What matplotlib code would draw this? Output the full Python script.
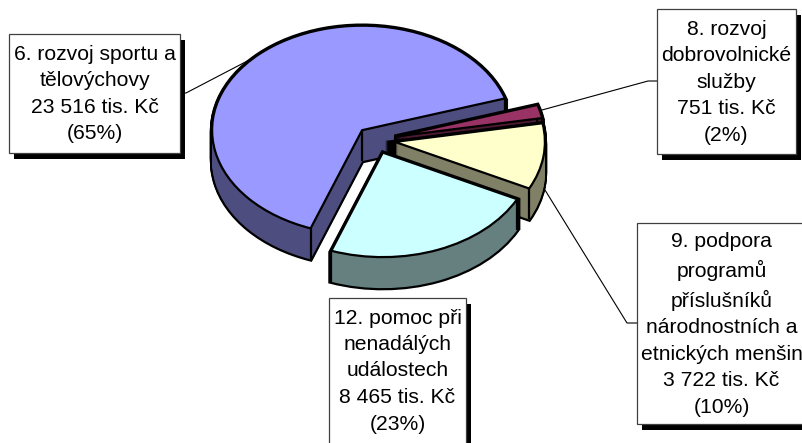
import numpy as np
import matplotlib
matplotlib.use("Agg")
import matplotlib.pyplot as plt
from matplotlib.patches import Rectangle

plt.rcParams['font.family'] = ['Liberation Sans', 'DejaVu Sans']

# data (pie order, counter-clockwise from the start angle)
categories = ["6. rozvoj sportu a\ntělovýchovy",
              "12. pomoc při\nnenadálých\nudálostech",
              "9. podpora\nprogramů\npříslušníků\nnárodnostních a\netnických menšin",
              "8. rozvoj\ndobrovolnické\nslužby"]
values = [23516, 8465, 3722, 751]
value_labels = ["23 516 tis. Kč", "8 465 tis. Kč", "3 722 tis. Kč", "751 tis. Kč"]
percent_labels = ["(65%)", "(23%)", "(10%)", "(2%)"]

top_colors = ["#9999FF", "#CCFFFF", "#FFFFCC", "#993366"]
side_colors = ["#4D4D80", "#668080", "#808066", "#4D1A33"]
draw_order = [0, 3, 2, 1]   # back to front

W, H = 803, 443
CX, CY, A, B = 375.6, 140.0, 150.0, 104.5
DEPTH_PX = 31
START = 17.7
EXPLODE = [0.13] * 4
LW = 1.6

fig = plt.figure(figsize=(W / 100, H / 100), dpi=100, facecolor="white")
ax = fig.add_axes([0, 0, 1, 1])


def layer(depth, **wedgeprops):
    w, _ = ax.pie(values, startangle=START, explode=EXPLODE, center=(0, -depth),
                  radius=1, colors=top_colors, wedgeprops=wedgeprops)
    return w


depth_units = DEPTH_PX / B
steps = np.linspace(depth_units, 0, DEPTH_PX + 1)

# black silhouette, then dark sides over it
for d in steps:
    for o, w in zip(np.argsort(draw_order), layer(d, edgecolor="black", linewidth=LW * 2)):
        w.set_zorder(10 * o + 1)
for d in steps:
    for i, (o, w) in enumerate(zip(np.argsort(draw_order), layer(d, linewidth=0))):
        w.set_facecolor(side_colors[i])
        w.set_zorder(10 * o + 2)

# top faces and the vertical corner edges
tops = layer(0, edgecolor="black", linewidth=LW, joinstyle="miter")
for o, w in zip(np.argsort(draw_order), tops):
    w.set_zorder(10 * o + 4)
    cx, cy = w.center
    xs = [cx, cx + np.cos(np.radians(w.theta1)), cx + np.cos(np.radians(w.theta2))]
    ys = [cy, cy + np.sin(np.radians(w.theta1)), cy + np.sin(np.radians(w.theta2))]
    for x, y in zip(xs, ys):
        ax.plot([x, x], [y, y - depth_units], color="black", lw=LW,
                zorder=10 * o + 3, solid_capstyle="butt")

ax.set_aspect("auto")
ax.set_xlim(-CX / A, (W - CX) / A)
ax.set_ylim((CY - H) / B, CY / B)
ax.axis("off")

# overlay in pixel coordinates for callouts
ov = fig.add_axes([0, 0, 1, 1], zorder=5)
ov.set_xlim(0, W)
ov.set_ylim(H, 0)
ov.axis("off")
ov.patch.set_alpha(0)

leaders = {0: [(180, 93), (186, 93), (255, 57)],
           3: [(657, 81), (648, 81), (542, 110)],
           2: [(637, 323), (627, 323), (545, 190)]}
for pts in leaders.values():
    xs, ys = zip(*pts)
    ov.plot(xs, ys, color="black", lw=0.8, zorder=1)

boxes = {0: (9, 34, 180, 153),
         3: (657, 9, 796, 154),
         2: (637, 223, 806, 424),
         1: (329, 298, 466, 448)}
text_y = {0: 94, 3: 82, 2: 324.5, 1: 371}
for i, (x0, y0, x1, y1) in boxes.items():
    ov.add_patch(Rectangle((x0 + 5.5, y0 + 5.5), x1 - x0, y1 - y0, facecolor="black",
                           edgecolor="none", zorder=2))
    ov.add_patch(Rectangle((x0, y0), x1 - x0, y1 - y0, facecolor="white",
                           edgecolor="#404040", lw=0.9, zorder=3))
    label = "\n".join([categories[i], value_labels[i], percent_labels[i]])
    ov.text((x0 + x1) / 2, text_y[i], label, ha="center", va="center",
            multialignment="center", fontsize=15.2, linespacing=1.5,
            color="black", zorder=4)

fig.savefig("out.png", dpi=100, facecolor="white")
